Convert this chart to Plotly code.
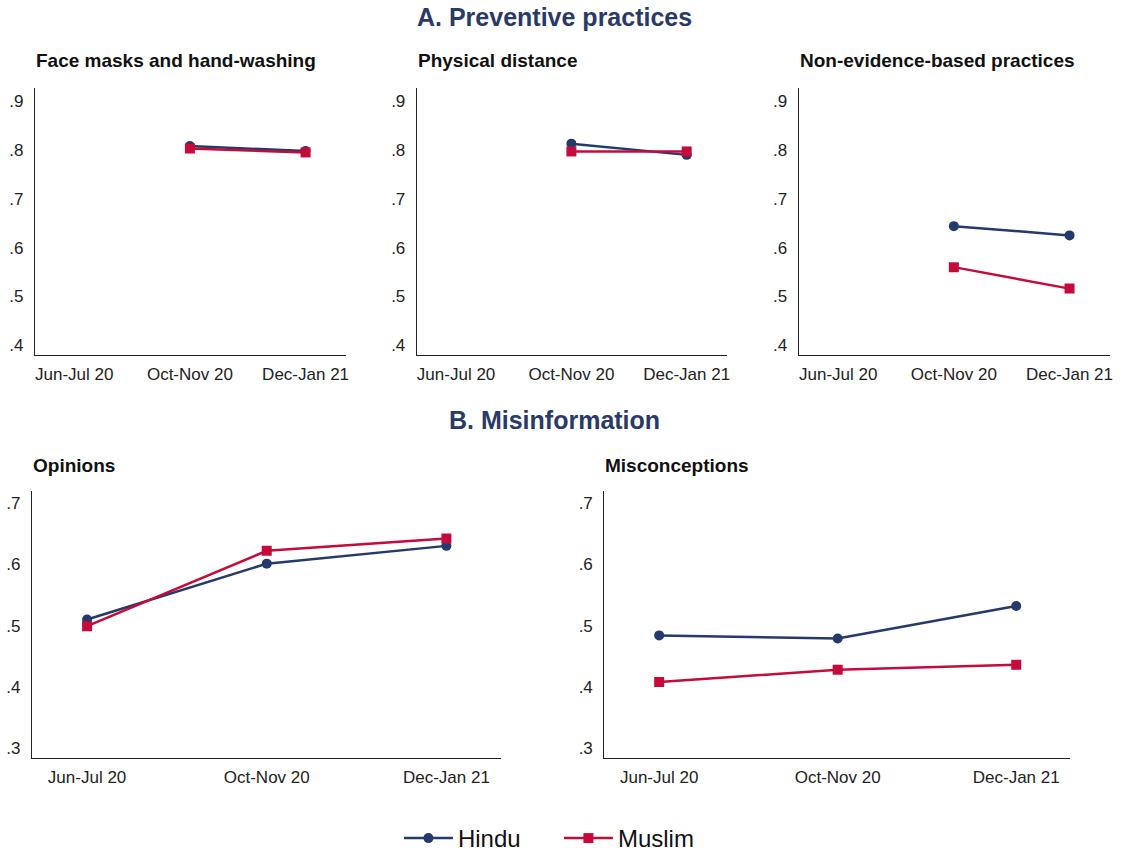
import plotly.graph_objects as go

# Survey waves
waves = ["Jun-Jul 20", "Oct-Nov 20", "Dec-Jan 21"]
wave_pos = [0, 1, 2]

# Panel A: preventive practices (share), first wave not collected
masks_hindu = [None, 0.808, 0.798]
masks_muslim = [None, 0.803, 0.795]
distance_hindu = [None, 0.813, 0.790]
distance_muslim = [None, 0.797, 0.797]
nonevidence_hindu = [None, 0.644, 0.625]
nonevidence_muslim = [None, 0.560, 0.516]

# Panel B: misinformation (share)
opinions_hindu = [0.510, 0.601, 0.630]
opinions_muslim = [0.499, 0.622, 0.642]
misconc_hindu = [0.484, 0.479, 0.532]
misconc_muslim = [0.408, 0.428, 0.436]

top_ticks = [0.4, 0.5, 0.6, 0.7, 0.8, 0.9]
top_ticktext = [".4", ".5", ".6", ".7", ".8", ".9"]
bot_ticks = [0.3, 0.4, 0.5, 0.6, 0.7]
bot_ticktext = [".3", ".4", ".5", ".6", ".7"]

HINDU = "#243a6c"
MUSLIM = "#c60a3a"
NAVY_TITLE = "#2a3a66"
FONT = "Liberation Sans, Arial, Helvetica, sans-serif"

W, H = 1122, 861


def px_x(a, b):
    return [a / W, b / W]


def px_y(top, bottom):
    return [1 - bottom / H, 1 - top / H]


def py(y):
    return 1 - y / H


panels = [
    # (title, hindu, muslim, x-domain px, y-domain px, yrange, ticks, ticktext, xrange)
    ("Face masks and hand-washing", masks_hindu, masks_muslim, (35, 347), (88, 355),
     [0.38, 0.927], top_ticks, top_ticktext, [-0.34, 2.35]),
    ("Physical distance", distance_hindu, distance_muslim, (418, 729), (88, 355),
     [0.38, 0.927], top_ticks, top_ticktext, [-0.34, 2.35]),
    ("Non-evidence-based practices", nonevidence_hindu, nonevidence_muslim, (801, 1113), (88, 355),
     [0.38, 0.927], top_ticks, top_ticktext, [-0.34, 2.35]),
    ("Opinions", opinions_hindu, opinions_muslim, (32, 502), (491, 758),
     [0.284, 0.7195], bot_ticks, bot_ticktext, [-0.307, 2.302]),
    ("Misconceptions", misconc_hindu, misconc_muslim, (606, 1073), (491, 758),
     [0.284, 0.7195], bot_ticks, bot_ticktext, [-0.307, 2.302]),
]

fig = go.Figure()
annotations = []

for i, (title, hin, mus, xd, yd, yr, tv, tt, xr) in enumerate(panels):
    n = "" if i == 0 else str(i + 1)
    xa, ya = "x" + n, "y" + n
    fig.add_trace(go.Scatter(
        x=wave_pos, y=hin, xaxis=xa, yaxis=ya, mode="lines+markers",
        name="Hindu", legendgroup="Hindu", showlegend=(i == 0),
        line=dict(color=HINDU, width=2.5),
        marker=dict(symbol="circle", size=10, color=HINDU),
        connectgaps=False,
    ))
    fig.add_trace(go.Scatter(
        x=wave_pos, y=mus, xaxis=xa, yaxis=ya, mode="lines+markers",
        name="Muslim", legendgroup="Muslim", showlegend=(i == 0),
        line=dict(color=MUSLIM, width=2.5),
        marker=dict(symbol="square", size=10, color=MUSLIM),
        connectgaps=False,
    ))
    xkey = "xaxis" + n
    ykey = "yaxis" + n
    fig.layout[xkey] = dict(
        domain=px_x(*xd), anchor=ya, range=xr,
        tickvals=wave_pos, ticktext=waves, ticks="",
        showline=True, linecolor="#222", linewidth=1.3,
        showgrid=False, zeroline=False,
        tickfont=dict(family=FONT, size=17, color="#222"),
        ticklabelstandoff=3, fixedrange=True,
    )
    fig.layout[ykey] = dict(
        domain=px_y(*yd), anchor=xa, range=yr,
        tickvals=tv, ticktext=tt, ticks="",
        showline=True, linecolor="#222", linewidth=1.3,
        showgrid=False, zeroline=False,
        tickfont=dict(family=FONT, size=17, color="#222"),
        ticklabelstandoff=7, fixedrange=True,
    )
    # panel title, left-aligned with the y-axis
    title_y = 61 if yd[0] < 200 else 465
    annotations.append(dict(
        text="<b>%s</b>" % title, x=(xd[0] - 1) / W, y=py(title_y),
        xref="paper", yref="paper", xanchor="left", yanchor="middle",
        showarrow=False, font=dict(family=FONT, size=19, color="#111"),
    ))

# section headings
annotations.append(dict(
    text="<b>A. Preventive practices</b>", x=556 / W, y=py(17),
    xref="paper", yref="paper", xanchor="center", yanchor="middle",
    showarrow=False, font=dict(family=FONT, size=25, color=NAVY_TITLE),
))
annotations.append(dict(
    text="<b>B. Misinformation</b>", x=556 / W, y=py(420),
    xref="paper", yref="paper", xanchor="center", yanchor="middle",
    showarrow=False, font=dict(family=FONT, size=25, color=NAVY_TITLE),
))

fig.update_layout(
    width=W, height=H,
    margin=dict(l=0, r=0, t=0, b=0),
    paper_bgcolor="white", plot_bgcolor="white",
    annotations=annotations,
    showlegend=True,
    legend=dict(
        orientation="h", x=400 / W, xanchor="left", y=0, yanchor="bottom",
        font=dict(family=FONT, size=24, color="#111"),
        itemwidth=49, entrywidth=96, traceorder="normal",
        bgcolor="rgba(0,0,0,0)",
    ),
)

fig.write_html("out.html")
